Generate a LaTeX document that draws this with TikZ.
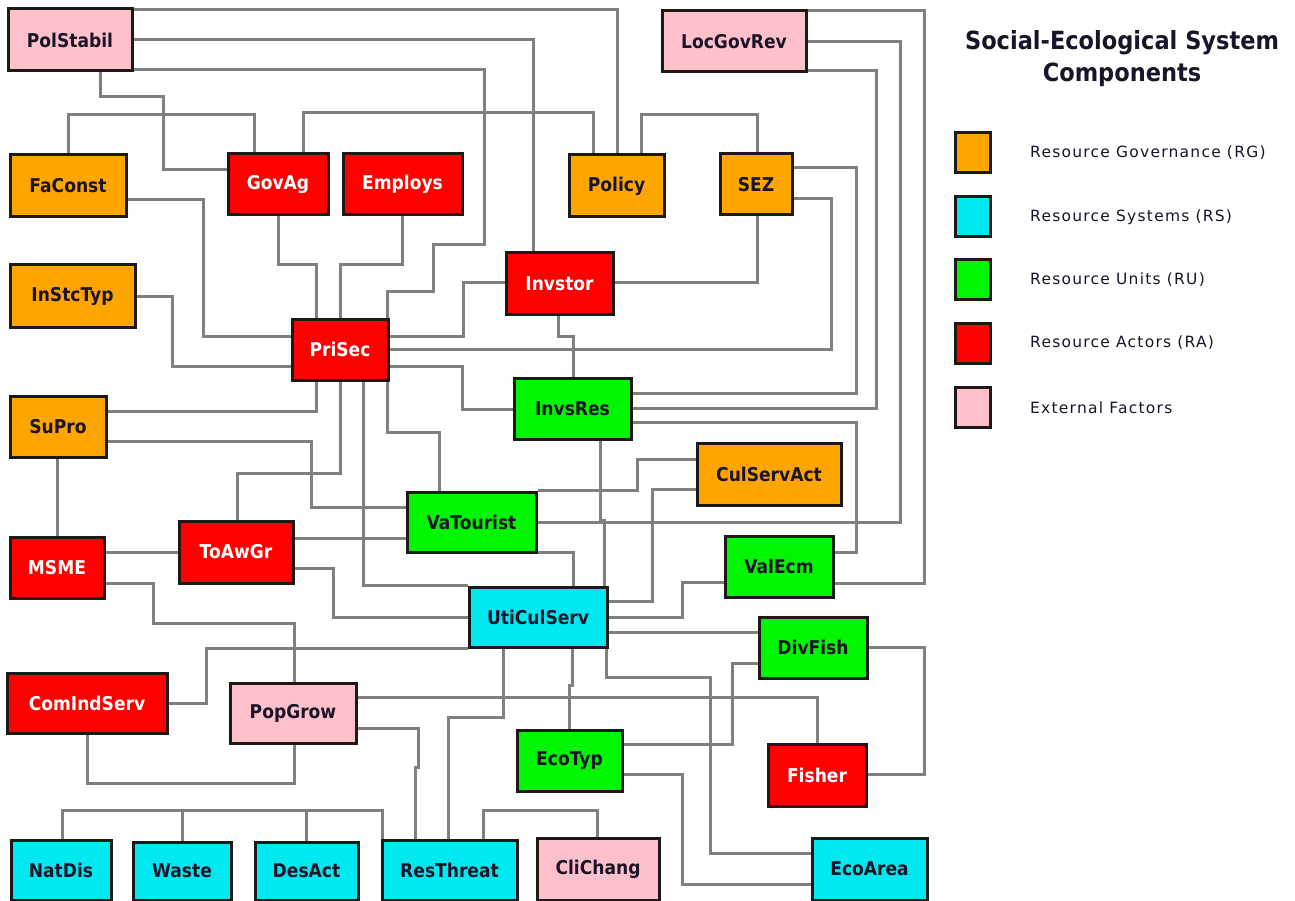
\documentclass[tikz,border=0pt]{standalone}
\usepackage{fontspec}
\setmainfont{DejaVu Sans}
\newfontfamily\nodefont[FakeStretch=0.9]{DejaVu Sans}
\newfontfamily\legfont[LetterSpace=8]{DejaVu Sans}
\usetikzlibrary{backgrounds}
\definecolor{cRG}{RGB}{255,165,0}
\definecolor{cRS}{RGB}{0,232,240}
\definecolor{cRU}{RGB}{0,245,0}
\definecolor{cRA}{RGB}{255,0,0}
\definecolor{cEF}{RGB}{255,192,203}
\definecolor{cBorder}{RGB}{30,25,25}
\definecolor{cLink}{RGB}{128,128,128}
\definecolor{cText}{RGB}{25,20,40}
\tikzset{
  box/.style={draw=cBorder, line width=3pt, inner sep=0pt, font=\nodefont\bfseries\fontsize{19}{22}\selectfont, text=cText},
  rg/.style={box, fill=cRG},
  rs/.style={box, fill=cRS},
  ru/.style={box, fill=cRU},
  ra/.style={box, fill=cRA, text=white},
  ef/.style={box, fill=cEF},
  link/.style={draw=cLink, line width=3pt},
  legbox/.style={draw=cBorder, line width=3pt, minimum width=35pt, minimum height=40pt, inner sep=0pt},
  legtxt/.style={anchor=west, inner sep=0pt, font=\legfont\fontsize{15.5}{18}\selectfont, text=cText}
}
\begin{document}
\begin{tikzpicture}[x=1pt,y=-1pt]
\useasboundingbox (0,0) rectangle (1295,901);
% nodes
\node[ef, minimum width=124pt, minimum height=62pt] (PolStabil) at (70,40) {PolStabil};
\node[ef, minimum width=144pt, minimum height=61pt] (LocGovRev) at (734,41.5) {LocGovRev};
\node[rg, minimum width=116pt, minimum height=62pt] (FaConst) at (68,186) {FaConst};
\node[ra, minimum width=100pt, minimum height=61pt] (GovAg) at (278,184.5) {GovAg};
\node[ra, minimum width=119pt, minimum height=61pt] (Employs) at (402.5,184.5) {Employs};
\node[rg, minimum width=95pt, minimum height=62pt] (Policy) at (616.5,186) {Policy};
\node[rg, minimum width=72pt, minimum height=61pt] (SEZ) at (756,184.5) {SEZ};
\node[rg, minimum width=125pt, minimum height=62pt] (InStcTyp) at (72.5,296) {InStcTyp};
\node[ra, minimum width=96pt, minimum height=61pt] (PriSec) at (340,349.5) {PriSec};
\node[ra, minimum width=107pt, minimum height=61pt] (Invstor) at (559.5,283.5) {Invstor};
\node[ru, minimum width=117pt, minimum height=61pt] (InvsRes) at (572.5,408.5) {InvsRes};
\node[rg, minimum width=96pt, minimum height=61pt] (SuPro) at (58,426.5) {SuPro};
\node[rg, minimum width=144pt, minimum height=62pt] (CulServAct) at (769,474) {CulServAct};
\node[ru, minimum width=129pt, minimum height=60pt] (VaTourist) at (471.5,522) {VaTourist};
\node[ra, minimum width=94pt, minimum height=61pt] (MSME) at (57,567.5) {MSME};
\node[ra, minimum width=114pt, minimum height=62pt] (ToAwGr) at (236,552) {ToAwGr};
\node[ru, minimum width=108pt, minimum height=61pt] (ValEcm) at (779,566.5) {ValEcm};
\node[rs, minimum width=138pt, minimum height=60pt] (UtiCulServ) at (538,617) {UtiCulServ};
\node[ru, minimum width=108pt, minimum height=61pt] (DivFish) at (813,647.5) {DivFish};
\node[ra, minimum width=160pt, minimum height=60pt] (ComIndServ) at (87,703) {ComIndServ};
\node[ef, minimum width=126pt, minimum height=60pt] (PopGrow) at (293,713) {PopGrow};
\node[ru, minimum width=105pt, minimum height=61pt] (EcoTyp) at (569.5,760.5) {EcoTyp};
\node[ra, minimum width=98pt, minimum height=62pt] (Fisher) at (817,775) {Fisher};
\node[rs, minimum width=100pt, minimum height=60pt] (NatDis) at (61,870) {NatDis};
\node[rs, minimum width=98pt, minimum height=58pt] (Waste) at (182,871) {Waste};
\node[rs, minimum width=103pt, minimum height=58pt] (DesAct) at (306.5,871) {DesAct};
\node[rs, minimum width=135pt, minimum height=60pt] (ResThreat) at (449.5,870) {ResThreat};
\node[ef, minimum width=122pt, minimum height=62pt] (CliChang) at (598,869) {CliChang};
\node[rs, minimum width=115pt, minimum height=62pt] (EcoArea) at (869.5,869) {EcoArea};
% legend
\node[align=center, font=\nodefont\bfseries\fontsize{25}{32}\selectfont, text=cText] (legTitle) at (1122,59) {Social-Ecological System\\Components};
\node[legbox, fill=cRG] (legRG) at (972.5,152.5) {};
\node[legbox, fill=cRS] (legRS) at (972.5,217) {};
\node[legbox, fill=cRU] (legRU) at (972.5,279.5) {};
\node[legbox, fill=cRA] (legRA) at (972.5,343) {};
\node[legbox, fill=cEF] (legEF) at (972.5,407.5) {};
\node[legtxt] (legRGt) at (1030,152.5) {Resource Governance (RG)};
\node[legtxt] (legRSt) at (1030,217) {Resource Systems (RS)};
\node[legtxt] (legRUt) at (1030,279.5) {Resource Units (RU)};
\node[legtxt] (legRAt) at (1030,343) {Resource Actors (RA)};
\node[legtxt] (legEFt) at (1030,407.5) {External Factors};
% connectors
\begin{scope}[on background layer]
\draw[link] (PolStabil.east |- 0,10) -- (617,10) -- (Policy.north -| 617,0);
\draw[link] (PolStabil.east |- 0,40) -| (Invstor.north -| 533,0);
\draw[link] (PolStabil.east |- 0,70) -- (484,70) -- (484,245) -- (433,245) -- (433,291) -- (387,291) -- (PriSec.north -| 387,0);
\draw[link] (PolStabil.south -| 100,0) |- (163,97) |- (GovAg.west |- 0,170);
\draw[link] (FaConst.north -| 68,0) |- (254,115) -- (GovAg.north -| 254,0);
\draw[link] (GovAg.north -| 303,0) |- (593,113) -- (Policy.north -| 593,0);
\draw[link] (FaConst.east |- 0,200) -- (203,200) |- (PriSec.west |- 0,336);
\draw[link] (GovAg.south -| 278,0) |- (316,265) -- (PriSec.north -| 316,0);
\draw[link] (Employs.south -| 402,0) |- (340,265) -- (PriSec.north -| 340,0);
\draw[link] (InStcTyp.east |- 0,296) -- (172,296) |- (PriSec.west |- 0,366);
\draw[link] (SuPro.east |- 0,411) -| (PriSec.south -| 316,0);
\draw[link] (SuPro.east |- 0,441) -- (311,441) |- (VaTourist.west |- 0,507);
\draw[link] (PriSec.south -| 340,0) |- (237,473) -- (ToAwGr.north -| 237,0);
\draw[link] (PriSec.south -| 387,0) |- (439,432) -- (VaTourist.north -| 439,0);
\draw[link] (PriSec.south -| 363,0) |- (UtiCulServ.north west);
\draw[link] (ToAwGr.east |- 0,538) -- (VaTourist.west |- 0,538);
\draw[link] (ToAwGr.east |- 0,568) -- (333,568) |- (UtiCulServ.west |- 0,617);
\draw[link] (SuPro.south -| 57,0) -- (MSME.north -| 57,0);
\draw[link] (MSME.east |- 0,552) -- (ToAwGr.west |- 0,552);
\draw[link] (MSME.east |- 0,583) -- (153,583) |- (294,623) -- (PopGrow.north -| 294,0);
\draw[link] (ComIndServ.east |- 0,703) -- (206,703) |- (UtiCulServ.south west);
\draw[link] (ComIndServ.south -| 87,0) |- (294,783) -- (PopGrow.south -| 294,0);
\draw[link] (NatDis.north -| 62,0) |- (382,810) -- (ResThreat.north -| 382,0);
\draw[link] (Waste.north -| 182,0) |- (382,810) -- (ResThreat.north -| 382,0);
\draw[link] (DesAct.north -| 306,0) |- (382,810) -- (ResThreat.north -| 382,0);
\draw[link] (PopGrow.east |- 0,697) -| (Fisher.north -| 817,0);
\draw[link] (PopGrow.east |- 0,728) -- (418,728) -- (418,767) -- (415,767) -- (ResThreat.north -| 415,0);
\draw[link] (UtiCulServ.south -| 503,0) |- (448,717) -- (ResThreat.north -| 448,0);
\draw[link] (ResThreat.north -| 483,0) |- (597,810) -- (CliChang.north -| 597,0);
\draw[link] (UtiCulServ.south -| 572,0) -- (572,685) -- (569,685) -- (EcoTyp.north -| 569,0);
\draw[link] (UtiCulServ.south -| 606,0) |- (710,677) |- (EcoArea.west |- 0,853);
\draw[link] (EcoTyp.east |- 0,744) -- (732,744) |- (DivFish.west |- 0,663);
\draw[link] (EcoTyp.east |- 0,774) -- (682,774) |- (EcoArea.west |- 0,884);
\draw[link] (DivFish.east |- 0,647) -- (924,647) |- (Fisher.east |- 0,774);
\draw[link] (UtiCulServ.east |- 0,632) -- (DivFish.west |- 0,632);
\draw[link] (ValEcm.west |- 0,582) -- (682,582) |- (UtiCulServ.east |- 0,617);
\draw[link] (CulServAct.west |- 0,489) -- (652,489) |- (UtiCulServ.east |- 0,601);
\draw[link] (CulServAct.west |- 0,459) -- (637,459) |- (VaTourist.north east);
\draw[link] (LocGovRev.east |- 0,71) -- (876,71) |- (InvsRes.east |- 0,408);
\draw[link] (SEZ.east |- 0,168) -- (856,168) |- (InvsRes.east |- 0,393);
\draw[link] (SEZ.east |- 0,199) -- (831,199) |- (PriSec.east |- 0,349);
\draw[link] (LocGovRev.east |- 0,42) -- (900,42) |- (VaTourist.east |- 0,522);
\draw[link] (LocGovRev.east |- 0,11) -- (924,11) |- (ValEcm.east |- 0,583);
\draw[link] (InvsRes.east |- 0,422) -- (856,422) |- (ValEcm.east |- 0,552);
\draw[link] (Policy.north -| 641,0) |- (757,115) -- (SEZ.north -| 757,0);
\draw[link] (SEZ.south -| 757,0) |- (Invstor.east |- 0,282);
\draw[link] (Invstor.west |- 0,282) -- (463,282) |- (PriSec.east |- 0,336);
\draw[link] (Invstor.south -| 558,0) |- (573,336) -- (InvsRes.north -| 573,0);
\draw[link] (PriSec.east |- 0,366) -- (462,366) |- (InvsRes.west |- 0,409);
\draw[link] (InvsRes.south -| 600,0) -- (600,520) -- (604,520) -- (UtiCulServ.north -| 604,0);
\draw[link] (VaTourist.east |- 0,552) -| (UtiCulServ.north -| 573,0);
\end{scope}
\end{tikzpicture}
\end{document}
